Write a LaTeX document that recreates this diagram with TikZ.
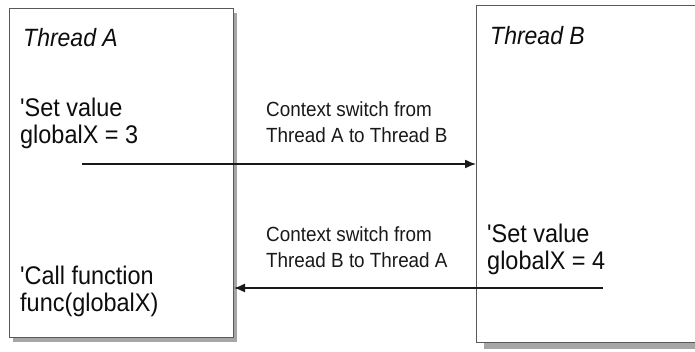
\documentclass[tikz,border=0pt]{standalone}
\usepackage{fontspec}
\newfontfamily\hv[FakeStretch=0.92]{Liberation Sans}
\usetikzlibrary{arrows.meta}
\tikzset{
  thread/.style={draw=black!65, line width=1pt, fill=white},
  shadowbox/.style={fill=black!35, draw=none},
  maintext/.style={anchor=base west, inner sep=0pt, align=left, font=\hv\fontsize{25.5}{27}\selectfont, text=black!95},
  titletext/.style={anchor=base west, inner sep=0pt, font=\hv\itshape\fontsize{25}{27}\selectfont, text=black!95},
  labeltext/.style={anchor=base west, inner sep=0pt, align=left, font=\hv\fontsize{20.5}{26}\selectfont, text=black!90},
  switch/.style={draw=black!90, line width=1.4pt, -{Latex[length=11pt,width=9pt]}}
}
\begin{document}
\begin{tikzpicture}[x=1pt,y=1pt]
\useasboundingbox (0,0) rectangle (695,352);
% shadows
\fill[shadowbox] (13,10) rectangle (237,339);
\fill[shadowbox] (484,3) rectangle (700,340);
% boxes
\draw[thread] (9,14) rectangle (233,343);
\draw[thread] (476,9) rectangle (705,346);
% texts
\node[titletext] (ta) at (23,305) {Thread A};
\node[titletext] (tb) at (490,307) {Thread B};
\node[maintext] (seta) at (20,208) {'Set value\\globalX = 3};
\node[maintext] (calla) at (20,40) {'Call function\\func(globalX)};
\node[maintext] (setb) at (487,82) {'Set value\\globalX = 4};
\node[labeltext] (l1) at (266,209) {Context switch from\\Thread A to Thread B};
\node[labeltext] (l2) at (266,84) {Context switch from\\Thread B to Thread A};
% connectors
\coordinate (s1) at (82,188);
\coordinate (e1) at (476,188);
\coordinate (s2) at (603,64);
\coordinate (e2) at (234,64);
\draw[switch] (s1) -- (e1);
\draw[switch] (s2) -- (e2);
\end{tikzpicture}
\end{document}
